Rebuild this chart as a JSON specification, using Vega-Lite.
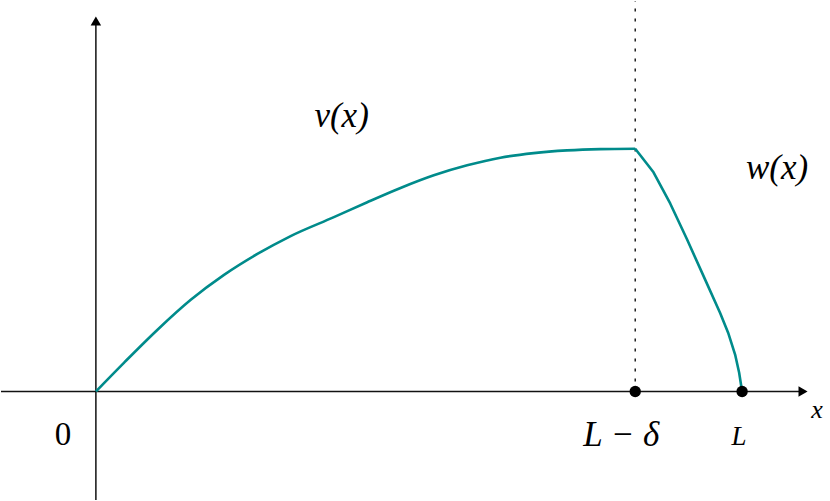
{
  "$schema": "https://vega.github.io/schema/vega-lite/v6.json",
  "width": 830,
  "height": 501,
  "autosize": {"type": "fit", "contains": "padding"},
  "padding": 0,
  "background": "white",
  "config": {"view": {"stroke": null}},
  "datasets": {
    "axes": [
      {"x": -0.95, "y": 0, "x2": 7.05, "y2": 0},
      {"x": 0, "y": -1.09, "x2": 0, "y2": 3.7}
    ],
    "arrows": [
      {"x": 7.08, "y": 0, "shape": "triangle-right"},
      {"x": 0, "y": 3.72, "shape": "triangle-up"}
    ],
    "guide": [
      {"x": 5.4, "y": 0, "x2": 5.4, "y2": 3.92}
    ],
    "vcurve": [
      {"x": 0.0, "y": 0.0},
      {"x": 0.283, "y": 0.29},
      {"x": 0.617, "y": 0.62},
      {"x": 0.95, "y": 0.92},
      {"x": 1.283, "y": 1.17},
      {"x": 1.617, "y": 1.38},
      {"x": 1.95, "y": 1.56},
      {"x": 2.383, "y": 1.75},
      {"x": 2.717, "y": 1.9},
      {"x": 3.05, "y": 2.043},
      {"x": 3.383, "y": 2.17},
      {"x": 3.717, "y": 2.27},
      {"x": 4.05, "y": 2.347},
      {"x": 4.383, "y": 2.393},
      {"x": 4.717, "y": 2.42},
      {"x": 5.05, "y": 2.433},
      {"x": 5.4, "y": 2.437}
    ],
    "wcurve": [
      {"x": 5.4, "y": 2.437},
      {"x": 5.583, "y": 2.2},
      {"x": 5.75, "y": 1.887},
      {"x": 5.917, "y": 1.53},
      {"x": 6.083, "y": 1.16},
      {"x": 6.25, "y": 0.787},
      {"x": 6.33, "y": 0.59},
      {"x": 6.4, "y": 0.37},
      {"x": 6.44, "y": 0.19},
      {"x": 6.47, "y": 0.0}
    ],
    "dots": [
      {"x": 5.4, "y": 0},
      {"x": 6.47, "y": 0}
    ],
    "labels": [
      {"x": 2.46, "y": 2.77, "t": "v(x)", "s": 35},
      {"x": 6.82, "y": 2.24, "t": "w(x)", "s": 35},
      {"x": 7.22, "y": -0.19, "t": "x", "s": 26},
      {"x": 5.26, "y": -0.44, "t": "L − δ", "s": 35},
      {"x": 6.44, "y": -0.46, "t": "L", "s": 27}
    ],
    "zero": [
      {"x": -0.33, "y": -0.44, "t": "0", "s": 33}
    ]
  },
  "layer": [
    {
      "data": {"name": "axes"},
      "mark": {"type": "rule", "color": "#111111", "strokeWidth": 1.5},
      "encoding": {
        "x": {"field": "x", "type": "quantitative", "scale": {"domain": [-0.95, 7.35], "nice": false, "zero": false}, "axis": null},
        "y": {"field": "y", "type": "quantitative", "scale": {"domain": [-1.09, 3.92], "nice": false, "zero": false}, "axis": null},
        "x2": {"field": "x2"},
        "y2": {"field": "y2"}
      }
    },
    {
      "data": {"name": "arrows"},
      "mark": {"type": "point", "filled": true, "color": "#000000", "size": 110, "opacity": 1},
      "encoding": {
        "x": {"field": "x", "type": "quantitative"},
        "y": {"field": "y", "type": "quantitative"},
        "shape": {"field": "shape", "type": "nominal", "scale": null, "legend": null}
      }
    },
    {
      "data": {"name": "guide"},
      "mark": {"type": "rule", "color": "#222222", "strokeWidth": 1.5, "strokeDash": [3, 7]},
      "encoding": {
        "x": {"field": "x", "type": "quantitative"},
        "y": {"field": "y", "type": "quantitative"},
        "x2": {"field": "x2"},
        "y2": {"field": "y2"}
      }
    },
    {
      "data": {"name": "vcurve"},
      "mark": {"type": "line", "color": "#008b8b", "strokeWidth": 2.6, "interpolate": "monotone"},
      "encoding": {
        "x": {"field": "x", "type": "quantitative"},
        "y": {"field": "y", "type": "quantitative"}
      }
    },
    {
      "data": {"name": "wcurve"},
      "mark": {"type": "line", "color": "#008b8b", "strokeWidth": 2.6, "interpolate": "linear", "strokeJoin": "round"},
      "encoding": {
        "x": {"field": "x", "type": "quantitative"},
        "y": {"field": "y", "type": "quantitative"}
      }
    },
    {
      "data": {"name": "dots"},
      "mark": {"type": "point", "filled": true, "color": "#000000", "size": 130, "opacity": 1, "shape": "circle"},
      "encoding": {
        "x": {"field": "x", "type": "quantitative"},
        "y": {"field": "y", "type": "quantitative"}
      }
    },
    {
      "data": {"name": "labels"},
      "mark": {"type": "text", "font": "'Liberation Serif', 'DejaVu Serif', serif", "fontStyle": "italic", "color": "#000000", "align": "center", "baseline": "middle"},
      "encoding": {
        "x": {"field": "x", "type": "quantitative"},
        "y": {"field": "y", "type": "quantitative"},
        "text": {"field": "t"},
        "size": {"field": "s", "type": "quantitative", "scale": null, "legend": null}
      }
    },
    {
      "data": {"name": "zero"},
      "mark": {"type": "text", "font": "'Liberation Serif', 'DejaVu Serif', serif", "color": "#000000", "align": "center", "baseline": "middle"},
      "encoding": {
        "x": {"field": "x", "type": "quantitative"},
        "y": {"field": "y", "type": "quantitative"},
        "text": {"field": "t"},
        "size": {"field": "s", "type": "quantitative", "scale": null, "legend": null}
      }
    }
  ]
}
